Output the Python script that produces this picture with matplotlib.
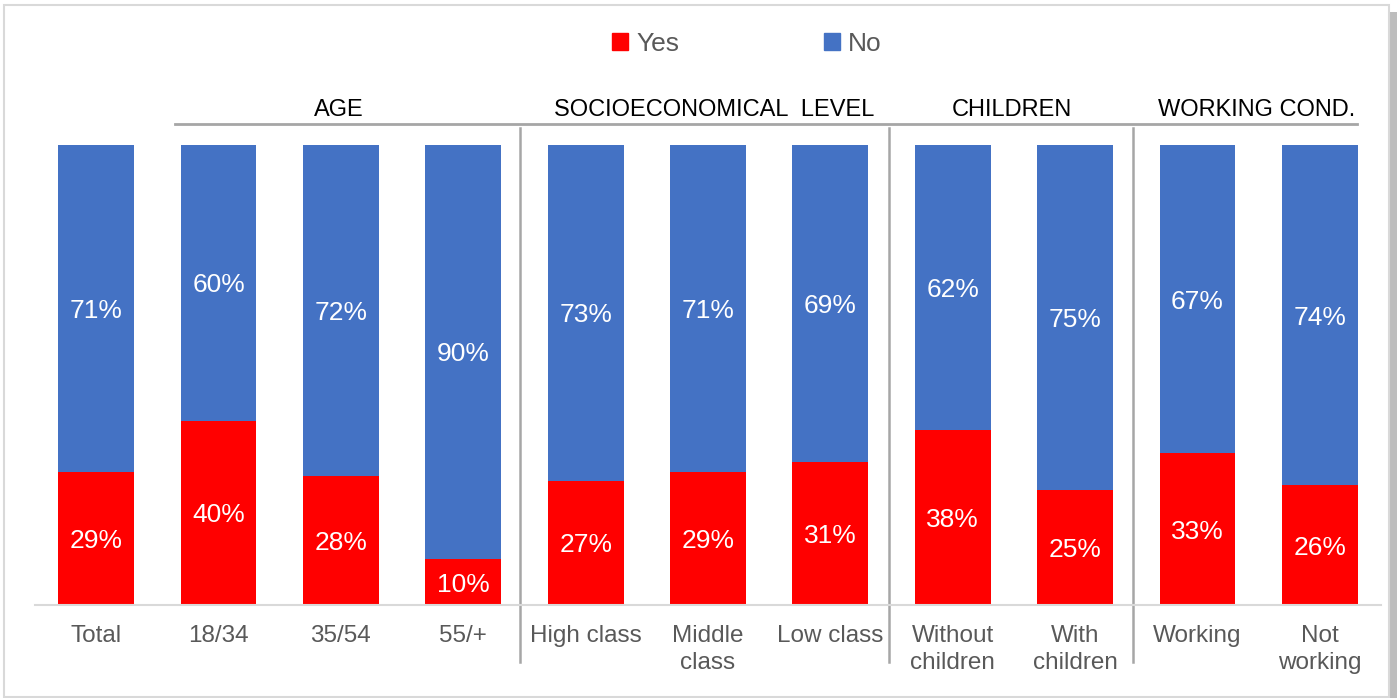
import matplotlib
matplotlib.use('Agg')
import matplotlib.pyplot as plt
from matplotlib.patches import Rectangle, Patch
import numpy as np

plt.rcParams['font.family'] = ['Liberation Sans', 'DejaVu Sans']

categories = ['Total', '18/34', '35/54', '55/+', 'High class', 'Middle\nclass',
              'Low class', 'Without\nchildren', 'With\nchildren', 'Working', 'Not\nworking']
yes_vals = [29, 40, 28, 10, 27, 29, 31, 38, 25, 33, 26]
no_vals = [71, 60, 72, 90, 73, 71, 69, 62, 75, 67, 74]
groups = ['AGE', 'SOCIOECONOMICAL  LEVEL', 'CHILDREN', 'WORKING COND.']
group_centers = [1.98, 5.05, 7.48, 9.48]
separators = [3.46, 6.48, 8.47]

RED = '#FF0000'
BLUE = '#4472C4'
GRAY_TXT = '#595959'

fig = plt.figure(figsize=(14, 6.98), dpi=100)

# outer frame with shadow (drawn first, behind the axes)
fig.patches.append(Rectangle((1390 / 1400, 0), 7 / 1400, 1 - 12 / 698,
                             transform=fig.transFigure, facecolor='#bdbdbd',
                             edgecolor='none', zorder=-2))
fig.patches.append(Rectangle((4 / 1400, 1 / 698), 1385 / 1400, 1 - 6 / 698,
                             transform=fig.transFigure, facecolor='none',
                             edgecolor='#d9d9d9', lw=1.5, zorder=-1))

ax = fig.add_axes([35 / 1400, (698 - 605) / 698, 1346 / 1400, 460 / 698])
ax.set_zorder(2)
ax.patch.set_alpha(0)

x = np.arange(len(categories))
w = 0.62
b1 = ax.bar(x, yes_vals, w, color=RED, label='Yes')
b2 = ax.bar(x, no_vals, w, bottom=yes_vals, color=BLUE, label='No')

for i in range(len(x)):
    ax.text(x[i], yes_vals[i] / 2, f'{yes_vals[i]}%', ha='center',
            va='center_baseline', color='white', fontsize=19)
    ax.text(x[i], yes_vals[i] + no_vals[i] / 2, f'{no_vals[i]}%', ha='center',
            va='center_baseline', color='white', fontsize=19)

ax.set_xlim(-0.5, len(categories) - 0.5)
ax.set_ylim(0, 100)
ax.set_yticks([])
ax.set_xticks(x)
ax.set_xticklabels(categories, fontsize=17.5, color=GRAY_TXT, linespacing=1.27)
ax.tick_params(axis='x', length=0, pad=14.5)
for s in ['top', 'left', 'right']:
    ax.spines[s].set_visible(False)
ax.spines['bottom'].set_color('#d9d9d9')
ax.spines['bottom'].set_linewidth(1.5)

# group separators and header line
for sx in separators:
    ax.plot([sx, sx], [-12.4, 103.7], color='#a6a6a6', lw=1.8, clip_on=False)
ax.plot([0.645, 10.30], [104.6, 104.6], color='#a6a6a6', lw=2, clip_on=False)
for g, gx in zip(groups, group_centers):
    ax.text(gx, 105.2, g, ha='center', va='bottom', fontsize=17, color='black')

fig.legend(handles=[Patch(color=RED), Patch(color=BLUE)], labels=['Yes', 'No'],
           loc='center', bbox_to_anchor=(747 / 1400, 1 - 44 / 698), ncol=2,
           frameon=False, fontsize=19, handlelength=0.6, handleheight=0.6,
           handletextpad=0.3, columnspacing=5.5, labelcolor=GRAY_TXT)

fig.savefig('out.png', dpi=100)
